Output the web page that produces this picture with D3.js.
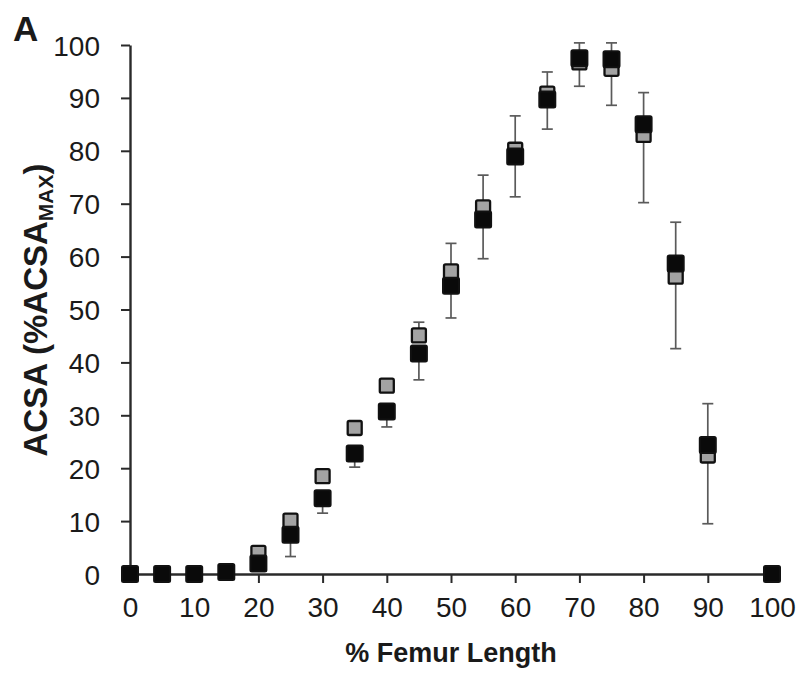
<!DOCTYPE html>
<html>
<head>
<meta charset="utf-8">
<script src="https://cdn.jsdelivr.net/npm/d3@7"></script>
<style>
  html, body { margin: 0; padding: 0; background: #fff; }
  svg { display: block; }
  text { font-family: "Liberation Sans", Arial, Helvetica, sans-serif; fill: #1a1a1a; }
</style>
</head>
<body>
<svg id="chart" width="799" height="673"></svg>
<script>
// ---- data ----
const femurPct = [0, 5, 10, 15, 20, 25, 30, 35, 40, 45, 50, 55, 60, 65, 70, 75, 80, 85, 90, 100];
const blackSeries = [0, 0, 0, 0.4, 2.0, 7.4, 14.3, 22.8, 30.7, 41.7, 54.5, 67.0, 78.9, 89.7, 97.5, 97.3, 85.0, 58.7, 24.4, 0];
const graySeries  = [0, 0, 0, 0.3, 4.0, 10.1, 18.5, 27.6, 35.6, 45.1, 57.2, 69.3, 80.2, 90.8, 96.7, 95.5, 83.0, 56.2, 22.4, 0];
const whiskerTop    = [null, null, null, null, 5.2, null, null, null, null, 47.6, 62.5, 75.4, 86.6, 94.9, 100.4, 100.4, 91.0, 66.5, 32.2, null];
const whiskerBottom = [null, null, null, null, null, 3.3, 11.5, 20.2, 27.8, 36.7, 48.4, 59.6, 71.3, 84.1, 92.2, 88.6, 70.2, 42.6, 9.5, null];
const xTicks = [0, 10, 20, 30, 40, 50, 60, 70, 80, 90, 100];
const yTicks = [0, 10, 20, 30, 40, 50, 60, 70, 80, 90, 100];
const xTitle = "% Femur Length";
const panelLabel = "A";

// ---- scales ----
const svg = d3.select("#chart");
const x = d3.scaleLinear().domain([0, 100]).range([130, 772]);
const y = d3.scaleLinear().domain([0, 100]).range([574, 45]);

// ---- axes ----
const axisColor = "#2a2a2a";
const yAxis = svg.append("g")
  .attr("transform", `translate(${x(0)},0)`)
  .call(d3.axisLeft(y).tickValues(yTicks).tickSize(9).tickSizeOuter(0).tickPadding(21).tickFormat(d3.format("d")));
const xAxis = svg.append("g")
  .attr("transform", `translate(0,${y(0)})`)
  .call(d3.axisBottom(x).tickValues(xTicks).tickSize(9).tickSizeOuter(0).tickPadding(14).tickFormat(d3.format("d")));
[yAxis, xAxis].forEach(g => {
  g.select(".domain").attr("stroke", axisColor).attr("stroke-width", 2.4);
  g.selectAll(".tick line").attr("stroke", axisColor).attr("stroke-width", 2);
  g.selectAll(".tick text").attr("font-size", 28).attr("fill", "#1a1a1a")
    .attr("font-family", "'Liberation Sans', Arial, sans-serif");
});
yAxis.selectAll(".tick text").attr("dy", "0.36em");
xAxis.selectAll(".tick text").attr("dy", "0.72em");

// ---- whiskers ----
const pts = femurPct.map((p, i) => ({ p, b: blackSeries[i], g: graySeries[i], top: whiskerTop[i], bot: whiskerBottom[i] }));
const wColor = "#5a5a5a";
const wg = svg.append("g");
pts.forEach(d => {
  const hi = Math.max(d.b, d.g), lo = Math.min(d.b, d.g);
  if (d.top != null) {
    wg.append("line").attr("x1", x(d.p)).attr("x2", x(d.p)).attr("y1", y(hi)).attr("y2", y(d.top))
      .attr("stroke", wColor).attr("stroke-width", 1.7);
    wg.append("line").attr("x1", x(d.p) - 5.5).attr("x2", x(d.p) + 5.5).attr("y1", y(d.top)).attr("y2", y(d.top))
      .attr("stroke", wColor).attr("stroke-width", 1.7);
  }
  if (d.bot != null) {
    wg.append("line").attr("x1", x(d.p)).attr("x2", x(d.p)).attr("y1", y(lo)).attr("y2", y(d.bot))
      .attr("stroke", wColor).attr("stroke-width", 1.7);
    wg.append("line").attr("x1", x(d.p) - 5.5).attr("x2", x(d.p) + 5.5).attr("y1", y(d.bot)).attr("y2", y(d.bot))
      .attr("stroke", wColor).attr("stroke-width", 1.7);
  }
});

// ---- markers ----
const gs = 14, bs = 16;
svg.append("g").selectAll("rect").data(pts).join("rect")
  .attr("x", d => x(d.p) - gs / 2).attr("y", d => y(d.g) - gs / 2)
  .attr("width", gs).attr("height", gs).attr("rx", 1.5)
  .attr("fill", "#a3a3a3").attr("stroke", "#111").attr("stroke-width", 2.3);
svg.append("g").selectAll("rect").data(pts).join("rect")
  .attr("x", d => x(d.p) - bs / 2).attr("y", d => y(d.b) - bs / 2)
  .attr("width", bs).attr("height", bs).attr("rx", 1.5)
  .attr("fill", "#0a0a0a").attr("stroke", "#111").attr("stroke-width", 2);

// ---- titles ----
svg.append("text").attr("x", 451).attr("y", 662).attr("text-anchor", "middle")
  .attr("font-size", 27).attr("font-weight", "bold").text(xTitle);

const yt = svg.append("text").attr("transform", "translate(47,310) rotate(-90)")
  .attr("text-anchor", "middle").attr("font-size", 33).attr("font-weight", "bold");
yt.append("tspan").text("ACSA (%ACSA");
yt.append("tspan").attr("font-size", 21).attr("dy", 6).text("MAX");
yt.append("tspan").attr("dy", -6).text(")");

svg.append("text").attr("x", 13).attr("y", 41).attr("font-size", 35).attr("font-weight", "bold").text(panelLabel);
</script>
</body>
</html>
